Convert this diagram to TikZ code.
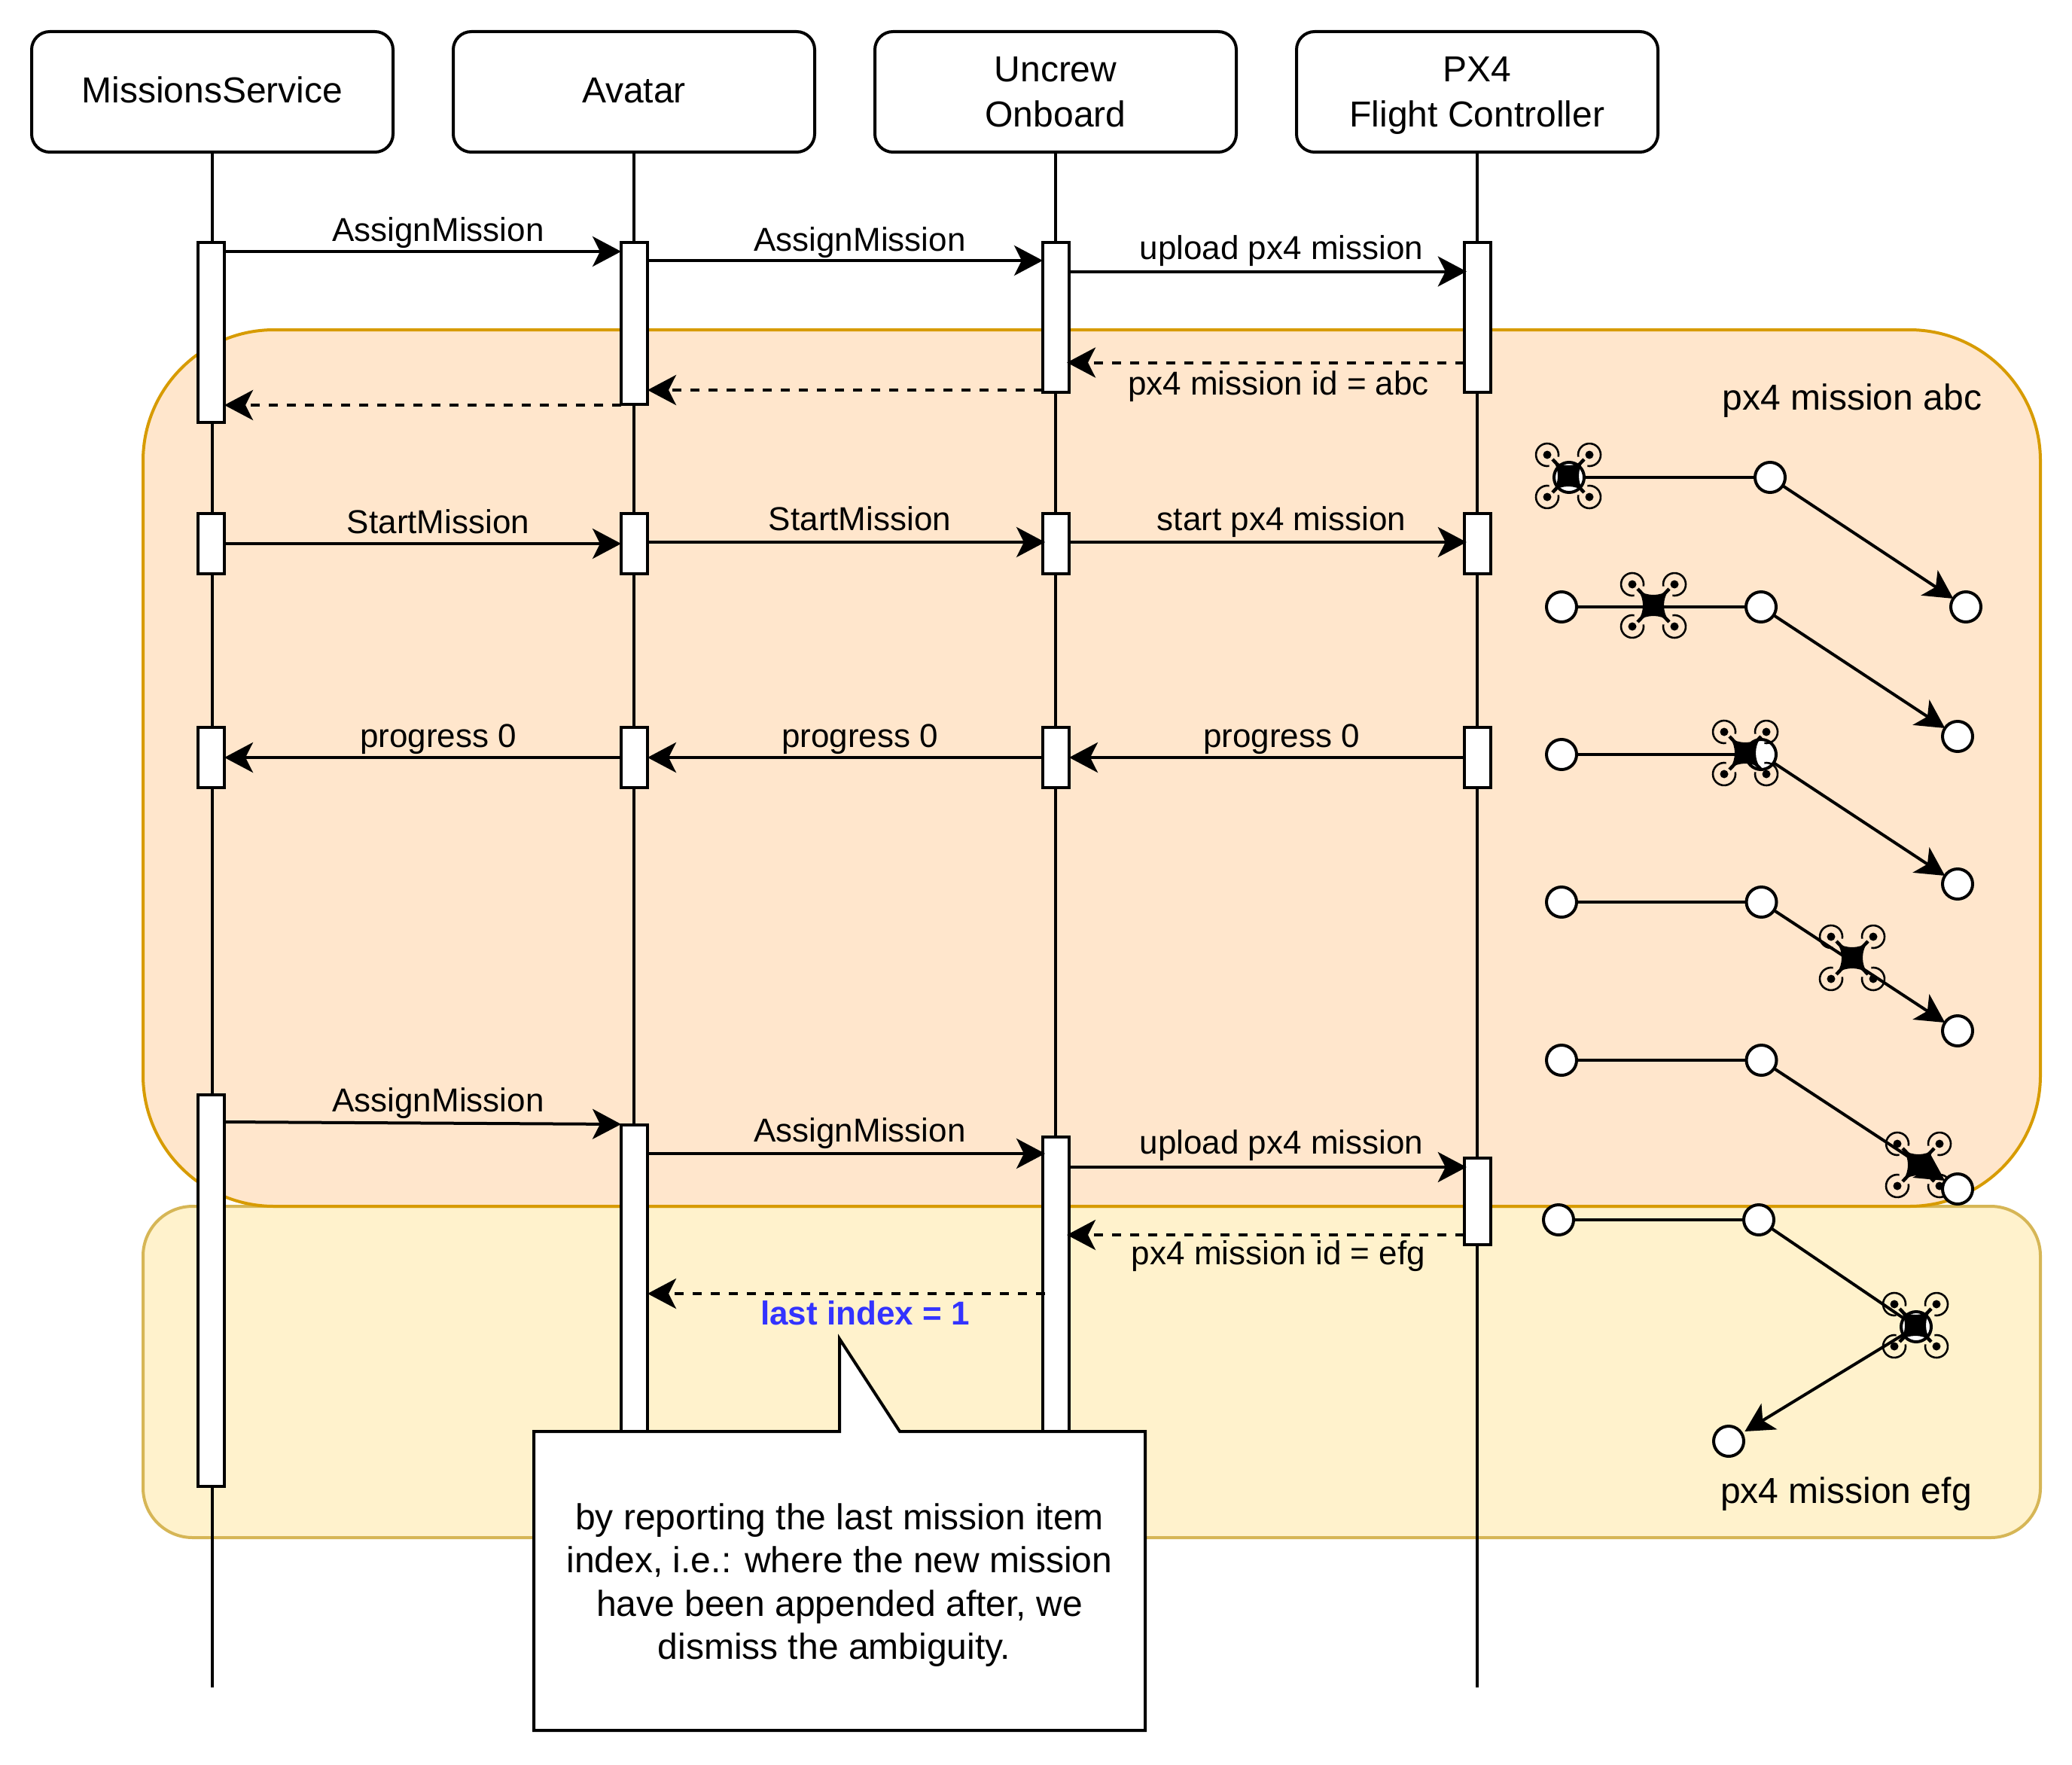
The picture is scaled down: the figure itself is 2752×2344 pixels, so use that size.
\documentclass[tikz,border=0pt]{standalone}
\usepackage{fontspec}
\setmainfont{Liberation Sans}
\usetikzlibrary{arrows.meta}
\definecolor{orfill}{HTML}{FFE6CC}
\definecolor{orline}{HTML}{D79B00}
\definecolor{yefill}{HTML}{FFF2CC}
\definecolor{yeline}{HTML}{D6B656}
\definecolor{blueidx}{HTML}{3333FF}
\newcommand{\hstrut}{\rule[-12pt]{0pt}{54pt}}
\newcommand{\hstrutb}{\rule[-9pt]{0pt}{51pt}}
\newcommand{\actbox}[4]{\node[act,minimum height={#4pt-#3pt}] (#1) at (#2,{(#3+#4)/2}) {};}
\tikzset{
  base/.style={line width=4pt},
  hdr/.style={base,draw,fill=white,rounded corners=24pt,minimum width=480pt,minimum height=160pt,inner sep=0pt,outer sep=0pt,align=center,font=\fontsize{48}{60}\selectfont},
  lifeline/.style={base,draw},
  act/.style={base,draw,fill=white,minimum width=35pt,inner sep=0pt,outer sep=0pt},
  msg/.style={base,draw,-{Stealth[length=38pt,width=40pt,inset=10pt]}},
  ret/.style={msg,dash pattern=on 12pt off 12pt},
  lbl/.style={anchor=base,inner sep=0pt,font=\fontsize{44}{53}\selectfont},
  big/.style={lbl,font=\fontsize{48}{58}\selectfont},
  wp/.style={base,draw,circle,fill=white,minimum size=40pt,inner sep=0pt,outer sep=0pt},
  path/.style={base,draw},
  drone/.pic={
    \foreach \sx/\sy/\ang in {-1/-1/315,1/-1/225,-1/1/45,1/1/135}{
      \begin{scope}[shift={(\sx*28,\sy*28)}]
        \fill (0,0) circle (5.5pt);
        \draw[line width=2.6pt] (\ang+35:15pt) arc[start angle=\ang+35,end angle=\ang+325,radius=15pt];
      \end{scope}
      \draw[line width=4.5pt] (0,0) -- (\sx*21,\sy*22);
    }
    \fill (20,20) .. controls (12,8) and (12,-8) .. (20,-20)
          .. controls (8,-12) and (-8,-12) .. (-20,-20)
          .. controls (-12,-8) and (-12,8) .. (-20,20)
          .. controls (-8,12) and (8,12) .. (20,20) -- cycle;
  }
}
\begin{document}
\begin{tikzpicture}[x=1pt,y=-1pt]
\useasboundingbox (0,0) rectangle (2752,2344);
\fill[white] (0,0) rectangle (2752,2344);

% regions
\draw[base,draw=yeline,fill=yefill,rounded corners=66pt] (190,1602) rectangle (2710,2042);
\draw[base,draw=orline,fill=orfill,rounded corners=174pt] (190,438) rectangle (2710,1602);

% headers
\node[hdr] (ms) at (282,122) {\hstrut MissionsService};
\node[hdr] (av) at (842,122) {\hstrut Avatar};
\node[hdr] (uc) at (1402,122) {\hstrutb Uncrew\\Onboard\hstrutb};
\node[hdr] (px) at (1962,122) {\hstrutb PX4\\Flight Controller\hstrutb};

% lifelines
\coordinate (msend) at (282,2241);
\coordinate (avend) at (842,2241);
\coordinate (ucend) at (1402,2241);
\coordinate (pxend) at (1962,2241);
\draw[lifeline] (ms) -- (msend);
\draw[lifeline] (av) -- (avend);
\draw[lifeline] (uc) -- (ucend);
\draw[lifeline] (px) -- (pxend);

% activations
\actbox{a1}{280.5}{322}{561}
\actbox{b1}{842.5}{322}{537}
\actbox{c1}{1402.5}{322}{521}
\actbox{d1}{1962.3}{322}{521}
\actbox{a2}{280.5}{682}{762}
\actbox{b2}{842.5}{682}{762}
\actbox{c2}{1402.5}{682}{762}
\actbox{d2}{1962.3}{682}{762}
\actbox{a3}{280.5}{966}{1046}
\actbox{b3}{842.5}{966}{1046}
\actbox{c3}{1402.5}{966}{1046}
\actbox{d3}{1962.3}{966}{1046}
\actbox{a4}{280.5}{1454}{1974}
\actbox{b4}{842.5}{1494}{2000}
\actbox{c4}{1402.5}{1510}{2000}
\actbox{d4}{1962.3}{1538}{1653}

% messages, first assignment
\draw[msg] (a1.east |- 0,334) -- (b1.west |- 0,334);
\draw[msg] (b1.east |- 0,346) -- (c1.west |- 0,346);
\draw[msg] (c1.east |- 0,360.5) -- ([xshift=3pt]d1.west |- 0,360.5);
\draw[ret] (d1.west |- 0,481.5) -- ([xshift=-3pt]c1.east |- 0,481.5);
\draw[ret] (c1.west |- 0,518) -- (b1.east |- 0,518);
\draw[ret] (b1.west |- 0,538) -- (a1.east |- 0,538);
% start
\draw[msg] (a2.east |- 0,722) -- (b2.west |- 0,722);
\draw[msg] (b2.east |- 0,720) -- ([xshift=3pt]c2.west |- 0,720);
\draw[msg] (c2.east |- 0,720) -- ([xshift=3pt]d2.west |- 0,720);
% progress
\draw[msg] (d3.west |- 0,1006) -- (c3.east |- 0,1006);
\draw[msg] (c3.west |- 0,1006) -- (b3.east |- 0,1006);
\draw[msg] (b3.west |- 0,1006) -- (a3.east |- 0,1006);
% second assignment
\draw[msg] (a4.east |- 0,1490) -- (b4.west |- 0,1493);
\draw[msg] (b4.east |- 0,1532) -- ([xshift=3pt]c4.west |- 0,1532);
\draw[msg] (c4.east |- 0,1550) -- ([xshift=3pt]d4.west |- 0,1550);
\draw[ret] (d4.west |- 0,1640) -- ([xshift=-3pt]c4.east |- 0,1640);
\draw[ret] ([xshift=3pt]c4.west |- 0,1718) -- (b4.east |- 0,1718);

% labels
\node[lbl] (t1) at (582,320) {AssignMission};
\node[lbl] (t2) at (1142,333) {AssignMission};
\node[lbl] (t3) at (1702,344) {upload px4 mission};
\node[lbl] (t4) at (1698,524) {px4 mission id = abc};
\node[lbl] (t5) at (582,708) {StartMission};
\node[lbl] (t6) at (1142,704) {StartMission};
\node[lbl] (t7) at (1702,704) {start px4 mission};
\node[lbl] (t8) at (582,992) {progress 0};
\node[lbl] (t9) at (1142,992) {progress 0};
\node[lbl] (t10) at (1702,992) {progress 0};
\node[lbl] (t11) at (582,1476) {AssignMission};
\node[lbl] (t12) at (1142,1516) {AssignMission};
\node[lbl] (t13) at (1702,1532) {upload px4 mission};
\node[lbl] (t14) at (1698,1679) {px4 mission id = efg};
\node[lbl,text=blueidx,font=\fontsize{44}{53}\selectfont\bfseries] (t15) at (1149,1759) {last index = 1};
\node[big] (t16) at (2460,544) {px4 mission abc};
\node[big] (t17) at (2452,1996) {px4 mission efg};

% mission 1
\node[wp] (p1a) at (2084,634) {};
\node[wp] (p1b) at (2351,634) {};
\node[wp] (p1c) at (2611,806) {};
\draw[path] (p1a) -- (p1b);
\draw[msg] (p1b) -- (p1c);
\pic at (2083,632) {drone};
% mission 2
\node[wp] (p2a) at (2074,806) {};
\node[wp] (p2b) at (2339,806) {};
\node[wp] (p2c) at (2600,978) {};
\draw[path] (p2a) -- (p2b);
\draw[msg] (p2b) -- (p2c);
\pic at (2196,804) {drone};
% mission 3
\node[wp] (p3a) at (2074,1002) {};
\node[wp] (p3b) at (2339,1002) {};
\node[wp] (p3c) at (2600,1174) {};
\draw[path] (p3a) -- (p3b);
\draw[msg] (p3b) -- (p3c);
\pic at (2318,1000) {drone};
% mission 4
\node[wp] (p4a) at (2074,1198) {};
\node[wp] (p4b) at (2339.5,1198) {};
\node[wp] (p4c) at (2600,1369) {};
\draw[path] (p4a) -- (p4b);
\draw[msg] (p4b) -- (p4c);
\pic at (2460,1272) {drone};
% mission 5
\node[wp] (p5a) at (2074,1408) {};
\node[wp] (p5b) at (2339.5,1408) {};
\draw[path] (p5a) -- (p5b);
\pic at (2548,1547) {drone};
\node[wp] (p5c) at (2600,1579) {};
\draw[msg] (p5b) -- (p5c);
% mission 6
\node[wp] (p6a) at (2070,1620) {};
\node[wp] (p6b) at (2336,1620) {};
\node[wp] (p6c) at (2545,1762) {};
\node[wp] (p6d) at (2296,1914) {};
\draw[path] (p6a) -- (p6b);
\draw[path] (p6b) -- (p6c);
\draw[msg,shorten >=5pt] (p6c) -- (p6d);
\pic at (2544,1760) {drone};

% note
\draw[base,fill=white] (709,1901) -- (1115,1901) -- (1115,1778) -- (1195,1901) -- (1521,1901) -- (1521,2298) -- (709,2298) -- cycle;
\node[inner sep=0pt,align=center,font=\fontsize{48}{57.6}\selectfont] (note) at (1115,2105) {by reporting the last mission item\\index, i.e.: where the new mission\\have been appended after, we\\dismiss the ambiguity.\hspace*{14pt}};
\end{tikzpicture}
\end{document}
